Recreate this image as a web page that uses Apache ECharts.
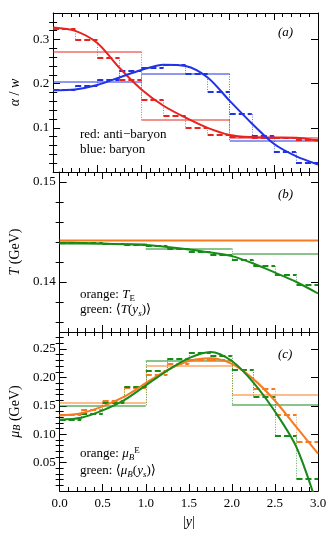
<!DOCTYPE html>
<html>
<head>
<meta charset="utf-8">
<script src="https://cdn.jsdelivr.net/npm/echarts@6/dist/echarts.min.js"></script>
<style>
  html, body { margin: 0; padding: 0; background: #fff; }
  #chart { width: 332px; height: 545px; }
</style>
</head>
<body>
<div id="chart"></div>
<script>
const FONT = '"Liberation Serif", "DejaVu Serif", serif';

// shared x grid
const curveX = [0, 0.25, 0.5, 0.75, 1, 1.25, 1.5, 1.75, 2, 2.25, 2.5, 2.75, 3];
const fineEdges = [0, 0.25, 0.5, 0.75, 1, 1.25, 1.5, 1.75, 2, 2.25, 2.5, 2.75, 3];
const coarseEdges = [0, 1, 2, 3];

// (a) alpha / w
const redCurve = [0.327, 0.3195, 0.292, 0.236, 0.187, 0.150, 0.123, 0.100, 0.084, 0.079, 0.078, 0.0775, 0.071];
const blueCurve = [0.185, 0.187, 0.197, 0.214, 0.231, 0.243, 0.240, 0.214, 0.161, 0.110, 0.064, 0.036, 0.017];
const redFine = [0.325, 0.300, 0.259, 0.208, 0.163, 0.127, 0.101, 0.084, 0.079, 0.078, 0.078, 0.073];
const blueFine = [0.186, 0.195, 0.210, 0.229, 0.236, 0.242, 0.222, 0.182, 0.131, 0.082, 0.045, 0.021];
const redCoarse = [0.272, 0.118, 0.077];
const blueCoarse = [0.205, 0.222, 0.071];

// (b) T
const tE = 0.14415;
const greenT = [0.14393, 0.1439, 0.14384, 0.14378, 0.14369, 0.1435, 0.14326, 0.14295, 0.14259, 0.14185, 0.14094, 0.1400, 0.13885];
const greenTFine = [0.14392, 0.14388, 0.1438, 0.1437, 0.14359, 0.14333, 0.14299, 0.14269, 0.14219, 0.14159, 0.14077, 0.13977];
const greenTCoarse = [0.14385, 0.14333, 0.14283];

// (c) mu_B
const greenMu = [0.1256, 0.129, 0.142, 0.160, 0.186, 0.212, 0.234, 0.245, 0.229, 0.191, 0.140, 0.077, -0.03];
const orangeMu = [0.133, 0.137, 0.149, 0.166, 0.190, 0.213, 0.229, 0.2336, 0.2237, 0.197, 0.159, 0.1125, 0.066];
const greenMuFine = [0.126, 0.136, 0.156, 0.183, 0.212, 0.233, 0.243, 0.239, 0.214, 0.166, 0.098, 0.021];
const orangeMuFine = [0.134, 0.1435, 0.159, 0.181, 0.204, 0.224, 0.232, 0.231, 0.214, 0.180, 0.135, 0.087];
const greenMuCoarse = [0.151, 0.230, 0.152];
const orangeMuCoarse = [0.155, 0.221, 0.169];

// tick labels
const aLabels = [0.1, 0.2, 0.3];
const bLabels = [0.14, 0.15];
const cLabels = [0.05, 0.10, 0.15, 0.20, 0.25];

const RED = '#e8231f', BLUE = '#2233e6', GREEN = '#188a18', ORANGE = '#f77b1e';

function steps(from, to, step) {
  const out = [];
  for (let k = Math.round(from / step); k * step <= to + 1e-9; k++) out.push(+(k * step).toFixed(4));
  return out;
}

const nameStyle = {
  fontFamily: FONT, fontSize: 14, color: '#000',
  rich: {
    i: { fontFamily: FONT, fontSize: 14, fontStyle: 'italic', color: '#000' },
    sub: { fontFamily: FONT, fontSize: 10, fontStyle: 'italic', color: '#000', verticalAlign: 'bottom', lineHeight: 8 }
  }
};

function xAxesFor(grid, last) {
  const common = {
    type: 'value', gridIndex: grid, min: 0, max: 3, interval: 0.5,
    splitLine: { show: false },
    axisLine: { onZero: false, lineStyle: { color: '#000', width: 1 } },
    axisTick: { inside: true, length: 7, lineStyle: { color: '#000' } },
    minorTick: { show: true, splitNumber: 5, length: 4, lineStyle: { color: '#000' } }
  };
  return [
    Object.assign({}, common, {
      position: 'bottom',
      axisLabel: { show: last, margin: 6, fontFamily: FONT, fontSize: 13, color: '#000', formatter: v => v.toFixed(1) },
      name: last ? '|{i|y}|' : '', nameLocation: 'middle', nameGap: 24, nameTextStyle: nameStyle
    }),
    Object.assign({}, common, { position: 'top', axisLabel: { show: false } })
  ];
}

function yAxesFor(grid, min, max, major, minor, labels, digits, name) {
  const common = {
    type: 'value', gridIndex: grid, min: min, max: max,
    splitLine: { show: false },
    axisLine: { onZero: false, lineStyle: { color: '#000', width: 1 } }
  };
  const tick = (len, vals) => ({ inside: true, length: len, customValues: vals, lineStyle: { color: '#000' } });
  return [
    Object.assign({}, common, {
      position: 'left', axisTick: tick(7, major),
      axisLabel: { customValues: labels, margin: 4, fontFamily: FONT, fontSize: 13, color: '#000', formatter: v => v.toFixed(digits) },
      name: name, nameLocation: 'middle', nameGap: 24, nameTextStyle: nameStyle
    }),
    Object.assign({}, common, { position: 'left', axisLine: { show: false }, axisTick: tick(4, minor), axisLabel: { show: false } }),
    Object.assign({}, common, { position: 'right', axisTick: tick(7, major), axisLabel: { show: false } }),
    Object.assign({}, common, { position: 'right', axisLine: { show: false }, axisTick: tick(4, minor), axisLabel: { show: false } })
  ];
}

function curve(grid, ys, color) {
  return {
    type: 'line', xAxisIndex: grid * 2, yAxisIndex: grid * 4,
    data: curveX.map((x, i) => [x, ys[i]]),
    smooth: 0.3, showSymbol: false, symbol: 'none', clip: true, z: 5,
    lineStyle: { color: color, width: 2 }
  };
}

function bins(grid, edges, vals, color, fine) {
  const h = vals.map((v, i) => ({ coords: [[edges[i], v], [edges[i + 1], v]] }));
  const vert = [];
  for (let i = 1; i < vals.length; i++) vert.push({ coords: [[edges[i], vals[i - 1]], [edges[i], vals[i]]] });
  const base = { type: 'lines', coordinateSystem: 'cartesian2d', xAxisIndex: grid * 2, yAxisIndex: grid * 4, silent: true };
  return [
    Object.assign({}, base, {
      data: h, z: fine ? 4 : 2,
      lineStyle: fine ? { color: color, width: 2, type: [6, 3], opacity: 1 } : { color: color, width: 1.8, opacity: 0.5 }
    }),
    Object.assign({}, base, {
      data: vert, z: 1,
      lineStyle: { color: color, width: 1, type: [1, 1.5], opacity: 0.7 }
    })
  ];
}

const aMinor = steps(0.02, 0.35, 0.02).filter(v => Math.abs(v * 10 - Math.round(v * 10)) > 1e-6);
const bMinor = steps(0.136, 0.15, 0.002).filter(v => bLabels.indexOf(v) < 0);
const cMinor = steps(0.01, 0.27, 0.01).filter(v => Math.abs(v * 20 - Math.round(v * 20)) > 1e-6);

const textRich = {
  n: { fontFamily: FONT, fontSize: 13, color: '#000', lineHeight: 16 },
  i: { fontFamily: FONT, fontSize: 13, fontStyle: 'italic', color: '#000', lineHeight: 16 },
  sub: { fontFamily: FONT, fontSize: 9, color: '#000', verticalAlign: 'bottom', lineHeight: 7 },
  subi: { fontFamily: FONT, fontSize: 9, fontStyle: 'italic', color: '#000', verticalAlign: 'bottom', lineHeight: 7 },
  sup: { fontFamily: FONT, fontSize: 9, color: '#000', verticalAlign: 'top', lineHeight: 9 }
};
function label(x, y, text) {
  return { type: 'text', x: x, y: y, silent: true, style: { text: text, rich: textRich, verticalAlign: 'middle', fontFamily: FONT, fontSize: 13, fill: '#000' } };
}

const option = {
  animation: false,
  backgroundColor: '#fff',
  grid: [
    { left: 53, right: 14, top: 13, height: 159 },
    { left: 53, right: 14, top: 172, height: 160 },
    { left: 53, right: 14, top: 332, height: 159 }
  ],
  xAxis: [].concat(xAxesFor(0, false), xAxesFor(1, false), xAxesFor(2, true)),
  yAxis: [].concat(
    yAxesFor(0, 0, 0.36, [0.1, 0.2, 0.3], aMinor, aLabels, 1, '{i|α} / {i|w}'),
    yAxesFor(1, 0.135, 0.151, bLabels, bMinor, bLabels, 2, '{i|T} (GeV)'),
    yAxesFor(2, 0, 0.28, cLabels, cMinor, cLabels, 2, '{i|μ}{sub|B} (GeV)')
  ),
  series: [].concat(
    bins(0, coarseEdges, redCoarse, RED, false),
    bins(0, coarseEdges, blueCoarse, BLUE, false),
    bins(0, fineEdges, redFine, RED, true),
    bins(0, fineEdges, blueFine, BLUE, true),
    [curve(0, redCurve, RED), curve(0, blueCurve, BLUE)],

    bins(1, coarseEdges, greenTCoarse, GREEN, false),
    bins(1, fineEdges, greenTFine, GREEN, true),
    [{
      type: 'line', xAxisIndex: 2, yAxisIndex: 4, data: [[0, tE], [3, tE]],
      showSymbol: false, symbol: 'none', z: 5, lineStyle: { color: ORANGE, width: 2 }
    }, curve(1, greenT, GREEN)],

    bins(2, coarseEdges, orangeMuCoarse, ORANGE, false),
    bins(2, coarseEdges, greenMuCoarse, GREEN, false),
    bins(2, fineEdges, orangeMuFine, ORANGE, true),
    bins(2, fineEdges, greenMuFine, GREEN, true),
    [curve(2, orangeMu, ORANGE), curve(2, greenMu, GREEN)]
  ),
  graphic: [
    label(278, 33, '{i|(a)}'),
    label(80, 135, '{n|red: anti−baryon}'),
    label(80, 150, '{n|blue: baryon}'),
    label(278, 195, '{i|(b)}'),
    label(80, 295, '{n|orange: }{i|T}{sub|E}'),
    label(80, 310, '{n|green: ⟨}{i|T}{n|(}{i|y}{subi|s}{n|)⟩}'),
    label(278, 355, '{i|(c)}'),
    label(80, 454, '{n|orange: }{i|μ}{subi|B}{sup|E}'),
    label(80, 471, '{n|green: ⟨}{i|μ}{subi|B}{n|(}{i|y}{subi|s}{n|)⟩}')
  ]
};

const chart = echarts.init(document.getElementById('chart'));
chart.setOption(option);
</script>
</body>
</html>
